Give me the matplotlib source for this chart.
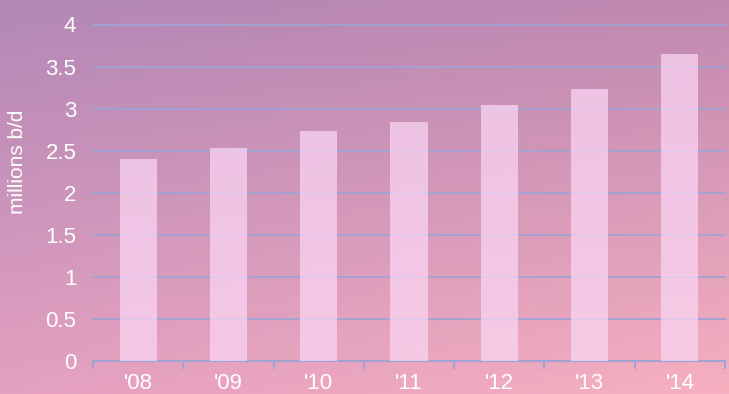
import matplotlib
matplotlib.use("Agg")
import matplotlib.pyplot as plt
import numpy as np

years = ["'08", "'09", "'10", "'11", "'12", "'13", "'14"]
values = [2.40, 2.53, 2.73, 2.84, 3.04, 3.23, 3.65]
yticks = [0, 0.5, 1, 1.5, 2, 2.5, 3, 3.5, 4]
ytick_labels = ["0", "0.5", "1", "1.5", "2", "2.5", "3", "3.5", "4"]

plt.rcParams['font.family'] = ['Liberation Sans', 'DejaVu Sans']

fig = plt.figure(figsize=(7.29, 3.94), dpi=100)

# background gradient
bg = fig.add_axes([0, 0, 1, 1], zorder=-10)
h, w = 200, 200
yy, xx = np.mgrid[0:1:h*1j, 0:1:w*1j]
tl = np.array([178, 136, 182]) / 255
tr = np.array([192, 136, 176]) / 255
bl = np.array([228, 160, 192]) / 255
br = np.array([246, 176, 192]) / 255
img = (tl[None, None, :] * ((1 - xx) * (1 - yy))[..., None]
       + tr[None, None, :] * (xx * (1 - yy))[..., None]
       + bl[None, None, :] * ((1 - xx) * yy)[..., None]
       + br[None, None, :] * (xx * yy)[..., None])
bg.imshow(img, aspect='auto', extent=[0, 1, 0, 1], origin='upper')
bg.set_axis_off()

ax = fig.add_axes([93/729, 1 - 361/394, (725-93)/729, (361-24.5)/394])
ax.set_facecolor('none')
x = np.arange(len(years)) + 0.5
ax.bar(x, values, width=0.41, color='#fad4f2', alpha=0.75, zorder=3)
ax.set_xlim(0, len(years))
ax.set_ylim(0, 4)

grid_color = '#a0a3d4'
for t in yticks[1:]:
    ax.axhline(t, color=grid_color, lw=1.3, zorder=1, clip_on=False)

for s in ['top', 'right', 'left']:
    ax.spines[s].set_visible(False)
ax.spines['bottom'].set_color(grid_color)
ax.spines['bottom'].set_linewidth(1.5)

ax.set_yticks(yticks)
ax.set_yticklabels(ytick_labels)
ax.tick_params(axis='y', length=0, pad=12, labelsize=16, labelcolor='white')
ax.set_xticks(np.arange(len(years) + 1))
ax.set_xticklabels([])
ax.set_xticks(x, minor=True)
ax.set_xticklabels(years, minor=True)
ax.tick_params(axis='x', which='major', length=6, width=1.5, color=grid_color, direction='out')
ax.tick_params(axis='x', which='minor', length=0, pad=8.5, labelsize=16, labelcolor='white')

fig.text(18/729, 1 - 162/394, 'millions b/d', rotation=90, ha='center', va='center',
         color='white', fontsize=15)

fig.savefig('out.png', dpi=100)
